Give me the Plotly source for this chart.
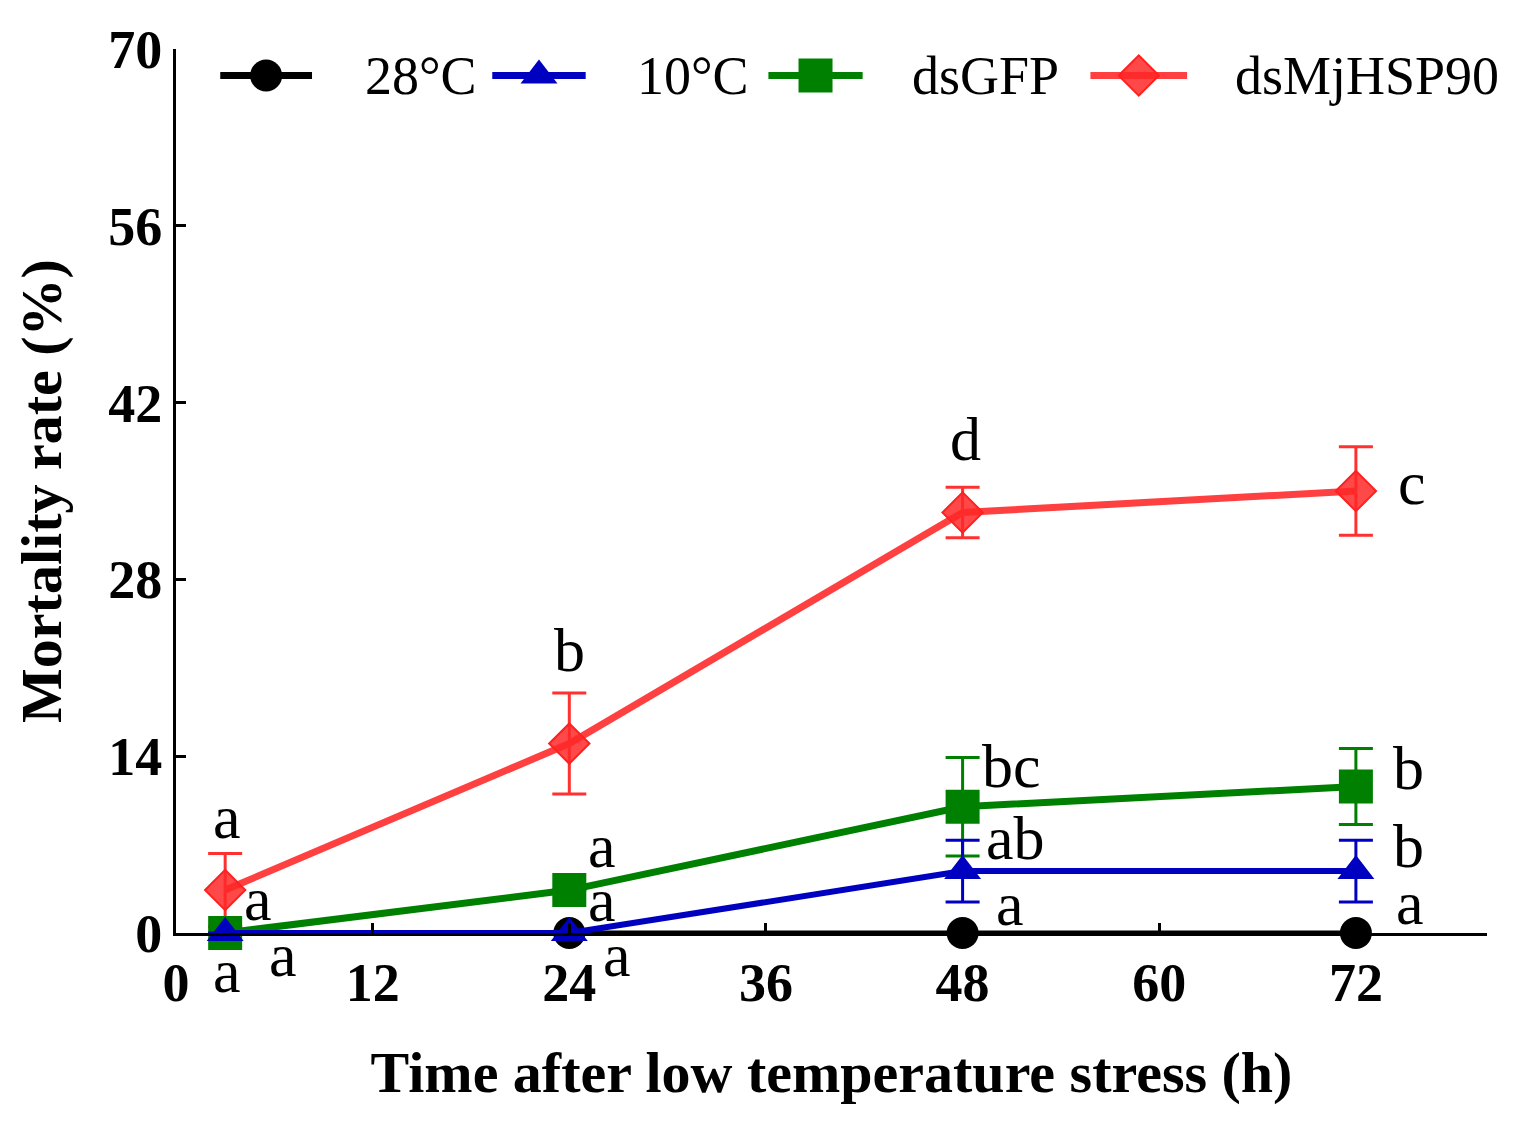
import plotly.graph_objects as go

# Time points (h)
hours = [3, 24, 48, 72]

# Mortality rate (%) and error bars (SD)
t28_mean = [0, 0, 0, 0]
t10_mean = [0, 0, 4.9, 4.9]
t10_err = [0, 0, 2.45, 2.45]
gfp_mean = [0, 3.4, 10.0, 11.6]
gfp_err = [0, 0, 3.9, 3.0]
hsp_mean = [3.4, 15.0, 33.3, 35.0]
hsp_err = [2.9, 4.0, 2.0, 3.5]

# significance letters above the axis
letters_x = [3.1, 5.0, 26.0, 26.0, 24.0, 48.2, 51.0, 51.2, 50.9, 75.4, 75.2, 75.2, 75.3]
letters_y = [9.2, 2.7, 6.9, 2.6, 22.4, 39.1, 13.2, 7.5, 2.3, 35.6, 13.1, 6.9, 2.4]
letters = ['a', 'a', 'a', 'a', 'b', 'd', 'bc', 'ab', 'a', 'c', 'b', 'b', 'a']
# letters below the axis (pixel offset from y = 0)
low_letters_x = [3.1, 6.5, 26.9]
low_letters_shift = [-38, -22, -22]
low_letters = ['a', 'a', 'a']

# series names, colours and symbols
names = ['28°C', '10°C', 'dsGFP', 'dsMjHSP90']
colors = ['black', '#0000c0', '#008000', '#ff4040']
symbols = ['circle', 'triangle-up', 'square', 'diamond']
msizes = [32, 32, 34, 31]
# hand-drawn legend keys (x in axis units, at the top of the plot)
key_x0 = [2.7, 19.3, 36.15, 55.8]
key_x1 = [8.3, 25.0, 41.9, 61.7]
key_text_x = [11.4, 28.0, 44.8, 64.5]
key_y = 67.9

serif = 'Liberation Serif, Times New Roman, serif'

fig = go.Figure()

fig.add_trace(go.Scatter(x=hours, y=t28_mean, name=names[0], mode='lines+markers', cliponaxis=False,
                         line=dict(color=colors[0], width=5),
                         marker=dict(symbol=symbols[0], size=msizes[0], color=colors[0])))

fig.add_trace(go.Scatter(x=hours, y=hsp_mean, name=names[3], mode='lines+markers', cliponaxis=False,
                         line=dict(color=colors[3], width=7),
                         marker=dict(symbol=symbols[3], size=msizes[3], color='rgba(255,40,40,0.85)',
                                     line=dict(color='#ff2020', width=2)),
                         error_y=dict(type='data', array=hsp_err, color='#ff3030', thickness=3, width=17)))

fig.add_trace(go.Scatter(x=hours, y=gfp_mean, name=names[2], mode='lines+markers', cliponaxis=False,
                         line=dict(color=colors[2], width=7),
                         marker=dict(symbol=symbols[2], size=msizes[2], color=colors[2]),
                         error_y=dict(type='data', array=gfp_err, color=colors[2], thickness=3, width=17)))

fig.add_trace(go.Scatter(x=hours, y=t10_mean, name=names[1], mode='lines+markers', cliponaxis=False,
                         line=dict(color=colors[1], width=6),
                         marker=dict(symbol=symbols[1], size=msizes[1], color=colors[1]),
                         error_y=dict(type='data', array=t10_err, color=colors[1], thickness=3, width=17)))

# legend drawn as keys: short line with the series marker in the middle
for i in range(4):
    mid = (key_x0[i] + key_x1[i]) / 2
    mcol = 'rgba(255,40,40,0.85)' if i == 3 else colors[i]
    mline = dict(color='#ff2020', width=2) if i == 3 else dict(width=0)
    fig.add_trace(go.Scatter(x=[key_x0[i], mid, key_x1[i]], y=[key_y] * 3, mode='lines+markers',
                             showlegend=False, hoverinfo='skip', cliponaxis=False,
                             line=dict(color=colors[i], width=7),
                             marker=dict(symbol=symbols[i], size=[0, msizes[i], 0], color=mcol,
                                         opacity=1, line=mline)))
    fig.add_annotation(x=key_text_x[i], y=key_y, text=names[i], showarrow=False,
                       xanchor='left', yanchor='middle',
                       font=dict(family=serif, size=54, color='black'))

for lx, ly, txt in zip(letters_x, letters_y, letters):
    fig.add_annotation(x=lx, y=ly, text=txt, showarrow=False, xanchor='center', yanchor='middle',
                       font=dict(family=serif, size=62, color='black'))

for lx, sh, txt in zip(low_letters_x, low_letters_shift, low_letters):
    fig.add_annotation(x=lx, y=0, yshift=sh, text=txt, showarrow=False, xanchor='center', yanchor='middle',
                       font=dict(family=serif, size=62, color='black'))

# page body has an 8px margin, so the figure is sized to fit the window
fig.update_layout(
    width=1507, height=1114,
    paper_bgcolor='white', plot_bgcolor='white',
    margin=dict(l=168, r=28, t=41, b=189),
    font=dict(family=serif, color='black'),
    showlegend=False,
    xaxis=dict(range=[0, 80], tickvals=[0, 12, 24, 36, 48, 60, 72], showgrid=False, zeroline=False,
               showline=True, linecolor='black', linewidth=3, ticks='inside', ticklen=10, tickwidth=3,
               tickcolor='black', tickfont=dict(family=serif, size=54, color='black', weight='bold'),
               title=dict(text='<b>Time after low temperature stress (h)</b>', standoff=40,
                          font=dict(family=serif, size=58, color='black'))),
    yaxis=dict(range=[0, 70], tickvals=[0, 14, 28, 42, 56, 70], showgrid=False, zeroline=False,
               showline=True, linecolor='black', linewidth=3, ticks='inside', ticklen=10, tickwidth=3,
               tickcolor='black', tickfont=dict(family=serif, size=54, color='black', weight='bold'),
               title=dict(text='<b>Mortality rate (%)</b>', standoff=28,
                          font=dict(family=serif, size=58, color='black'))),
)

fig.write_html("out.html")
